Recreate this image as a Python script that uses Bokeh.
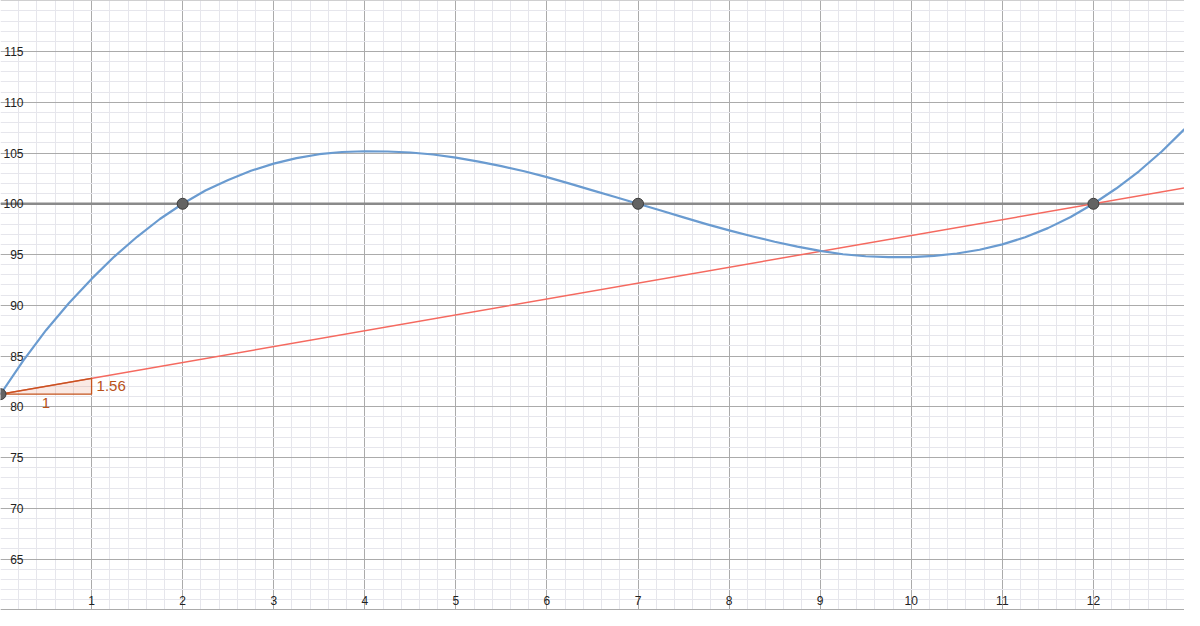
from bokeh.plotting import figure
from bokeh.models import Range1d, SingleIntervalTicker, ColumnDataSource
from bokeh.embed import file_html
from bokeh.resources import INLINE
from bokeh.core.properties import value

# ---- data ----
curve_x = [0, 0.25, 0.5, 0.75, 1, 1.25, 1.5, 1.75, 2, 2.25, 2.5, 2.75, 3, 3.25,
           3.5, 3.75, 4, 4.25, 4.5, 4.75, 5, 5.25, 5.5, 5.75, 6, 6.25, 6.5,
           6.75, 7, 7.25, 7.5, 7.75, 8, 8.25, 8.5, 8.75, 9, 9.25, 9.5, 9.75,
           10, 10.25, 10.5, 10.75, 11, 11.25, 11.5, 11.75, 12, 12.25, 12.5,
           12.75, 13]
curve_y = [81.25, 84.55, 87.55, 90.2, 92.6, 94.8, 96.75, 98.5, 100.0, 101.3,
           102.35, 103.25, 103.95, 104.5, 104.88, 105.1, 105.17, 105.15, 105.05,
           104.85, 104.55, 104.15, 103.7, 103.2, 102.62, 101.98, 101.32,
           100.66, 100.0, 99.33, 98.66, 98.0, 97.38, 96.8, 96.26, 95.78,
           95.36, 95.03, 94.83, 94.75, 94.75, 94.86, 95.1, 95.47, 96.0,
           96.7, 97.6, 98.7, 100.0, 101.5, 103.2, 105.15, 107.35]

points_x = [0, 2, 7, 12]
points_y = [81.25, 100, 100, 100]

red_x = [0, 13]
red_y = [81.25, 101.56]

level_x = [0, 13]
level_y = [100, 100]

tri_x = [0, 1, 1]
tri_y = [81.25, 81.25, 82.81]
slope_text = "1.56"
run_text = "1"

xtick_vals = [1, 2, 3, 4, 5, 6, 7, 8, 9, 10, 11, 12]
ytick_vals = [65, 70, 75, 80, 85, 90, 95, 100, 105, 110, 115]

X_MIN, X_MAX = 0.0, 13.0
Y_MIN, Y_MAX = 59.94, 120.02

# ---- figure ----
p = figure(width=1184, height=610, output_backend="svg", toolbar_location=None,
           x_range=Range1d(X_MIN, X_MAX), y_range=Range1d(Y_MIN, Y_MAX),
           min_border=0, outline_line_color=None)
p.background_fill_color = "white"
p.border_fill_color = "white"

p.xaxis.ticker = SingleIntervalTicker(interval=1, num_minor_ticks=5)
p.yaxis.ticker = SingleIntervalTicker(interval=5, num_minor_ticks=5)
p.xgrid.ticker = SingleIntervalTicker(interval=1, num_minor_ticks=5)
p.ygrid.ticker = SingleIntervalTicker(interval=5, num_minor_ticks=5)
p.xaxis.visible = False
p.yaxis.visible = False

for g in (p.xgrid, p.ygrid):
    g.grid_line_color = "#ababab"
    g.grid_line_width = 1
    g.minor_grid_line_color = "#e6e6ec"
    g.minor_grid_line_width = 1

# horizontal level line y = 100
p.line(level_x, level_y, line_color="#8a8a8a", line_width=2.5)

# red line
p.line(red_x, red_y, line_color="#f5695f", line_width=1.5)

# slope triangle
p.patch(tri_x, tri_y, fill_color="#d2501e", fill_alpha=0.12,
        line_color="#c4541e", line_width=1.3)

# blue curve
p.line(curve_x, curve_y, line_color="#6a9bd0", line_width=2.2,
       line_join="round")

# points
p.scatter(points_x, points_y, size=11, fill_color="#636363",
          line_color="#3c3c3c", line_width=1)

FONT = value("Liberation Sans")

# slope labels
p.text([tri_x[1]], [(tri_y[1] + tri_y[2]) / 2], text=[slope_text],
       text_font=FONT, text_font_size="15px", text_color="#b9521a",
       text_align="left", text_baseline="middle", x_offset=5)
p.text([(tri_x[0] + tri_x[1]) / 2], [tri_y[0]], text=[run_text],
       text_font=FONT, text_font_size="15px", text_color="#b9521a",
       text_align="center", text_baseline="top", y_offset=4)

# tick labels (drawn inside the view, GeoGebra style)
xsrc = ColumnDataSource(dict(x=xtick_vals, y=[Y_MIN] * len(xtick_vals),
                             t=[str(v) for v in xtick_vals]))
p.text("x", "y", text="t", source=xsrc, text_font=FONT,
       text_font_size="12px", text_color="#222222", text_align="center",
       text_baseline="middle", y_offset=-10)

ysrc = ColumnDataSource(dict(x=[X_MIN] * len(ytick_vals), y=ytick_vals,
                             t=[str(v) for v in ytick_vals]))
p.text("x", "y", text="t", source=ysrc, text_font=FONT,
       text_font_size="12px", text_color="#222222", text_align="right",
       text_baseline="middle", x_offset=23)

open("out.html", "w").write(file_html(p, INLINE))
